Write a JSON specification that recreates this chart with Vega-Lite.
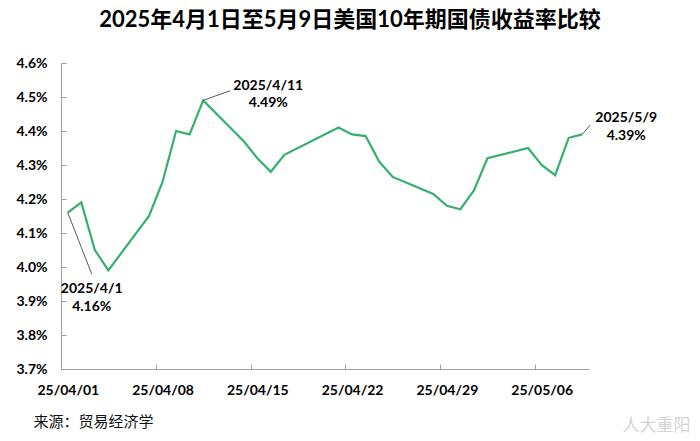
{
  "$schema": "https://vega.github.io/schema/vega-lite/v6.json",
  "width": 528,
  "height": 306,
  "autosize": {"type": "none"},
  "padding": {"left": 61, "top": 63, "right": 111, "bottom": 72},
  "background": "white",
  "config": {"view": {"stroke": null}, "font": "Lato"},
  "title": {
    "text": "2025年4月1日至5月9日美国10年期国债收益率比较",
    "font": "Lato, 'Noto Sans CJK SC'",
    "fontSize": 22,
    "fontWeight": "bold",
    "color": "#000000",
    "anchor": "middle",
    "dx": 25,
    "offset": 24
  },
  "layer": [
    {
      "data": {
        "values": [
          {"date": "2025-04-01", "yield": 4.16},
          {"date": "2025-04-02", "yield": 4.19},
          {"date": "2025-04-03", "yield": 4.05},
          {"date": "2025-04-04", "yield": 3.99},
          {"date": "2025-04-07", "yield": 4.15},
          {"date": "2025-04-08", "yield": 4.25},
          {"date": "2025-04-09", "yield": 4.40},
          {"date": "2025-04-10", "yield": 4.39},
          {"date": "2025-04-11", "yield": 4.49},
          {"date": "2025-04-14", "yield": 4.37},
          {"date": "2025-04-15", "yield": 4.32},
          {"date": "2025-04-16", "yield": 4.28},
          {"date": "2025-04-17", "yield": 4.33},
          {"date": "2025-04-21", "yield": 4.41},
          {"date": "2025-04-22", "yield": 4.39},
          {"date": "2025-04-23", "yield": 4.385},
          {"date": "2025-04-24", "yield": 4.31},
          {"date": "2025-04-25", "yield": 4.265},
          {"date": "2025-04-28", "yield": 4.215},
          {"date": "2025-04-29", "yield": 4.18},
          {"date": "2025-04-30", "yield": 4.17},
          {"date": "2025-05-01", "yield": 4.225},
          {"date": "2025-05-02", "yield": 4.32},
          {"date": "2025-05-05", "yield": 4.35},
          {"date": "2025-05-06", "yield": 4.30},
          {"date": "2025-05-07", "yield": 4.27},
          {"date": "2025-05-08", "yield": 4.38},
          {"date": "2025-05-09", "yield": 4.39}
        ],
        "format": {"parse": {"date": "date"}}
      },
      "mark": {"type": "line", "color": "#35b06e", "strokeWidth": 2.2},
      "encoding": {
        "x": {
          "field": "date",
          "type": "temporal",
          "scale": {
            "type": "utc",
            "domain": [
              {"year": 2025, "month": 3, "date": 31, "hours": 12, "utc": true},
              {"year": 2025, "month": 5, "date": 9, "hours": 12, "utc": true}
            ]
          },
          "axis": {
            "values": [
              {"year": 2025, "month": 3, "date": 31, "hours": 12, "utc": true},
              {"year": 2025, "month": 4, "date": 7, "hours": 12, "utc": true},
              {"year": 2025, "month": 4, "date": 14, "hours": 12, "utc": true},
              {"year": 2025, "month": 4, "date": 21, "hours": 12, "utc": true},
              {"year": 2025, "month": 4, "date": 28, "hours": 12, "utc": true},
              {"year": 2025, "month": 5, "date": 5, "hours": 12, "utc": true}
            ],
            "tickCount": 20,
            "labelExpr": "utcFormat(datum.value + 43200000, '%y/%m/%d')",
            "labelOffset": 6.8,
            "labelAngle": 0,
            "labelFlush": false,
            "labelOverlap": false,
            "labelFont": "Lato",
            "labelFontSize": 14,
            "labelFontWeight": "bold",
            "labelColor": "#000000",
            "labelPadding": 19,
            "tickSize": -5,
            "tickColor": "#a0a0a0",
            "domainColor": "#a0a0a0",
            "grid": false,
            "title": "来源：贸易经济学",
            "titleFont": "'Noto Sans CJK SC'",
            "titleFontSize": 15,
            "titleFontWeight": "normal",
            "titleColor": "#111111",
            "titleAnchor": "start",
            "titleAlign": "left",
            "titleBaseline": "middle",
            "titleX": -28,
            "titleY": 52
          }
        },
        "y": {
          "field": "yield",
          "type": "quantitative",
          "scale": {"domain": [3.7, 4.6], "nice": false, "zero": false},
          "axis": {
            "values": [3.7, 3.8, 3.9, 4.0, 4.1, 4.2, 4.3, 4.4, 4.5, 4.6],
            "tickCount": 20,
            "labelExpr": "format(datum.value, '.1f') + '%'",
            "labelOverlap": false,
            "labelFlush": false,
            "labelFont": "Lato",
            "labelFontSize": 14,
            "labelFontWeight": "bold",
            "labelColor": "#000000",
            "labelPadding": 19,
            "tickSize": -5,
            "tickColor": "#a0a0a0",
            "domainColor": "#a0a0a0",
            "grid": false,
            "title": "人大重阳",
            "titleFont": "'Noto Sans CJK SC'",
            "titleFontSize": 17,
            "titleFontWeight": "normal",
            "titleColor": "#d4d4d4",
            "titleAngle": 0,
            "titleAlign": "left",
            "titleBaseline": "middle",
            "titleX": 561,
            "titleY": 362
          }
        }
      }
    },
    {
      "data": {
        "values": [
          {"key": "start", "date": "2025-04-01T00:00:00Z", "yield": 4.16, "end_date": "2025-04-02T18:30:00Z", "end_yield": 3.979, "label": "2025/4/1\n4.16%"},
          {"key": "peak", "date": "2025-04-11T00:00:00Z", "yield": 4.49, "end_date": "2025-04-13T00:00:00Z", "end_yield": 4.5185, "label": "2025/4/11\n4.49%"},
          {"key": "end", "date": "2025-05-09T00:00:00Z", "yield": 4.39, "end_date": "2025-05-09T14:10:00Z", "end_yield": 4.4176, "label": "2025/5/9\n4.39%"}
        ],
        "format": {"parse": {"date": "date", "end_date": "date"}}
      },
      "layer": [
        {
          "mark": {"type": "rule", "color": "#595959", "strokeWidth": 1},
          "encoding": {
            "x": {"field": "date", "type": "temporal"},
            "y": {"field": "yield", "type": "quantitative"},
            "x2": {"field": "end_date"},
            "y2": {"field": "end_yield"}
          }
        },
        {
          "transform": [{"filter": "datum.key === 'start'"}],
          "mark": {"type": "text", "font": "Lato", "fontSize": 14, "fontWeight": "bold", "color": "#000000", "align": "center", "baseline": "alphabetic", "lineBreak": "\n", "lineHeight": 18, "dx": 0, "dy": 19},
          "encoding": {
            "x": {"field": "end_date", "type": "temporal"},
            "y": {"field": "end_yield", "type": "quantitative"},
            "text": {"field": "label", "type": "nominal"}
          }
        },
        {
          "transform": [{"filter": "datum.key === 'peak'"}],
          "mark": {"type": "text", "font": "Lato", "fontSize": 14, "fontWeight": "bold", "color": "#000000", "align": "center", "baseline": "alphabetic", "lineBreak": "\n", "lineHeight": 17.5, "dx": 38, "dy": -1},
          "encoding": {
            "x": {"field": "end_date", "type": "temporal"},
            "y": {"field": "end_yield", "type": "quantitative"},
            "text": {"field": "label", "type": "nominal"}
          }
        },
        {
          "transform": [{"filter": "datum.key === 'end'"}],
          "mark": {"type": "text", "font": "Lato", "fontSize": 14, "fontWeight": "bold", "color": "#000000", "align": "center", "baseline": "alphabetic", "lineBreak": "\n", "lineHeight": 17.5, "dx": 36, "dy": -3},
          "encoding": {
            "x": {"field": "end_date", "type": "temporal"},
            "y": {"field": "end_yield", "type": "quantitative"},
            "text": {"field": "label", "type": "nominal"}
          }
        }
      ]
    }
  ]
}
